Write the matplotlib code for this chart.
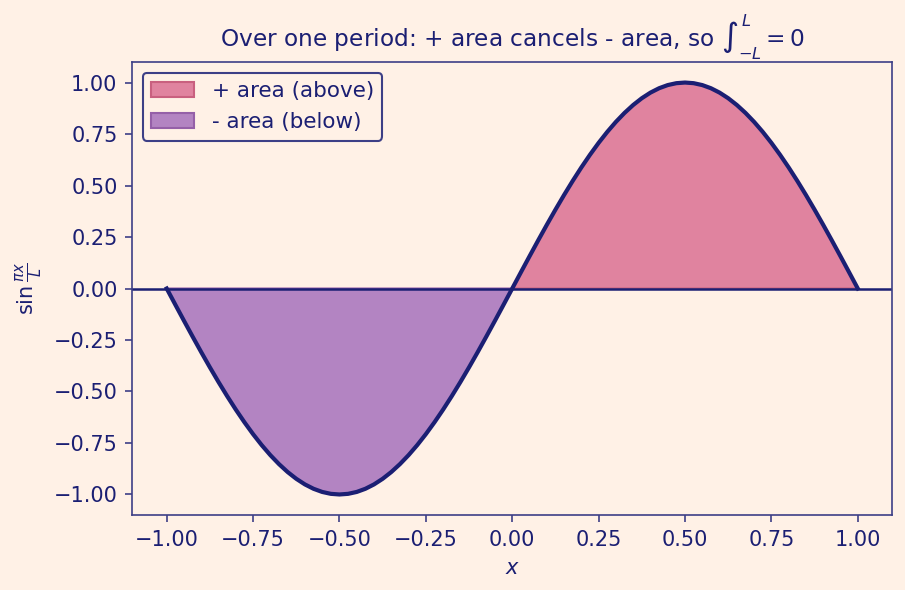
import matplotlib
matplotlib.use("Agg")
import matplotlib.pyplot as plt
import numpy as np

x_vals = [-1.000, -0.975, -0.950, -0.925, -0.900, -0.875, -0.850, -0.825, -0.800, -0.775,
          -0.750, -0.725, -0.700, -0.675, -0.650, -0.625, -0.600, -0.575, -0.550, -0.525,
          -0.500, -0.475, -0.450, -0.425, -0.400, -0.375, -0.350, -0.325, -0.300, -0.275,
          -0.250, -0.225, -0.200, -0.175, -0.150, -0.125, -0.100, -0.075, -0.050, -0.025,
          0.000, 0.025, 0.050, 0.075, 0.100, 0.125, 0.150, 0.175, 0.200, 0.225,
          0.250, 0.275, 0.300, 0.325, 0.350, 0.375, 0.400, 0.425, 0.450, 0.475,
          0.500, 0.525, 0.550, 0.575, 0.600, 0.625, 0.650, 0.675, 0.700, 0.725,
          0.750, 0.775, 0.800, 0.825, 0.850, 0.875, 0.900, 0.925, 0.950, 0.975, 1.000]
y_vals = [0.0000, -0.0785, -0.1564, -0.2334, -0.3090, -0.3827, -0.4540, -0.5225, -0.5878, -0.6494,
          -0.7071, -0.7604, -0.8090, -0.8526, -0.8910, -0.9239, -0.9511, -0.9724, -0.9877, -0.9969,
          -1.0000, -0.9969, -0.9877, -0.9724, -0.9511, -0.9239, -0.8910, -0.8526, -0.8090, -0.7604,
          -0.7071, -0.6494, -0.5878, -0.5225, -0.4540, -0.3827, -0.3090, -0.2334, -0.1564, -0.0785,
          0.0000, 0.0785, 0.1564, 0.2334, 0.3090, 0.3827, 0.4540, 0.5225, 0.5878, 0.6494,
          0.7071, 0.7604, 0.8090, 0.8526, 0.8910, 0.9239, 0.9511, 0.9724, 0.9877, 0.9969,
          1.0000, 0.9969, 0.9877, 0.9724, 0.9511, 0.9239, 0.8910, 0.8526, 0.8090, 0.7604,
          0.7071, 0.6494, 0.5878, 0.5225, 0.4540, 0.3827, 0.3090, 0.2334, 0.1564, 0.0785, 0.0000]
tick_vals = [-1.0, -0.75, -0.5, -0.25, 0.0, 0.25, 0.5, 0.75, 1.0]
legend_labels = ["+ area (above)", "- area (below)"]

BG = "#FFF1E6"
NAVY = "#1B1F73"
SPINE = "#3D3F86"
PINK = "#E0839F"
PURPLE = "#B384C2"

x = np.array(x_vals)
y = np.array(y_vals)

fig = plt.figure(figsize=(905/150, 590/150), dpi=150, facecolor=BG)
ax = fig.add_axes([0.146, 0.127, 0.840, 0.768], facecolor=BG)

ax.fill_between(x, y, 0, where=y >= 0, interpolate=True, facecolor=PINK,
                edgecolor="#C9607F", linewidth=0, label=legend_labels[0])
ax.fill_between(x, y, 0, where=y <= 0, interpolate=True, facecolor=PURPLE,
                edgecolor="#9560A8", linewidth=0, label=legend_labels[1])
ax.plot(x, y, color=NAVY, linewidth=2.0, solid_joinstyle="round")
ax.axhline(0, color=NAVY, linewidth=1.2)

fmt = matplotlib.ticker.FuncFormatter(lambda v, p: f"{v:.2f}".replace("-", "\u2212"))
ax.set_xticks(tick_vals)
ax.set_yticks(tick_vals)
ax.xaxis.set_major_formatter(fmt)
ax.yaxis.set_major_formatter(fmt)

for s in ax.spines.values():
    s.set_color(SPINE)
ax.tick_params(colors=SPINE, labelcolor=NAVY, labelsize=10)

ax.set_title(r"Over one period: + area cancels - area, so $\int_{-L}^{L} = 0$",
             color=NAVY, fontsize=11.2, pad=7)
ax.set_xlabel(r"$x$", color=NAVY, fontsize=10)
ax.set_ylabel(r"$\sin\frac{\pi x}{L}$", color=NAVY, fontsize=10)

handles, labels = ax.get_legend_handles_labels()
for h in handles:
    h.set_linewidth(1.0)
handles[0].set_edgecolor("#C9607F")
handles[1].set_edgecolor("#9560A8")
leg = ax.legend(handles, labels, loc="upper left", fontsize=10.3, facecolor=BG,
                edgecolor=SPINE, framealpha=1.0, fancybox=True)
for t in leg.get_texts():
    t.set_color(NAVY)

fig.savefig("out.png", dpi=150, facecolor=BG)
